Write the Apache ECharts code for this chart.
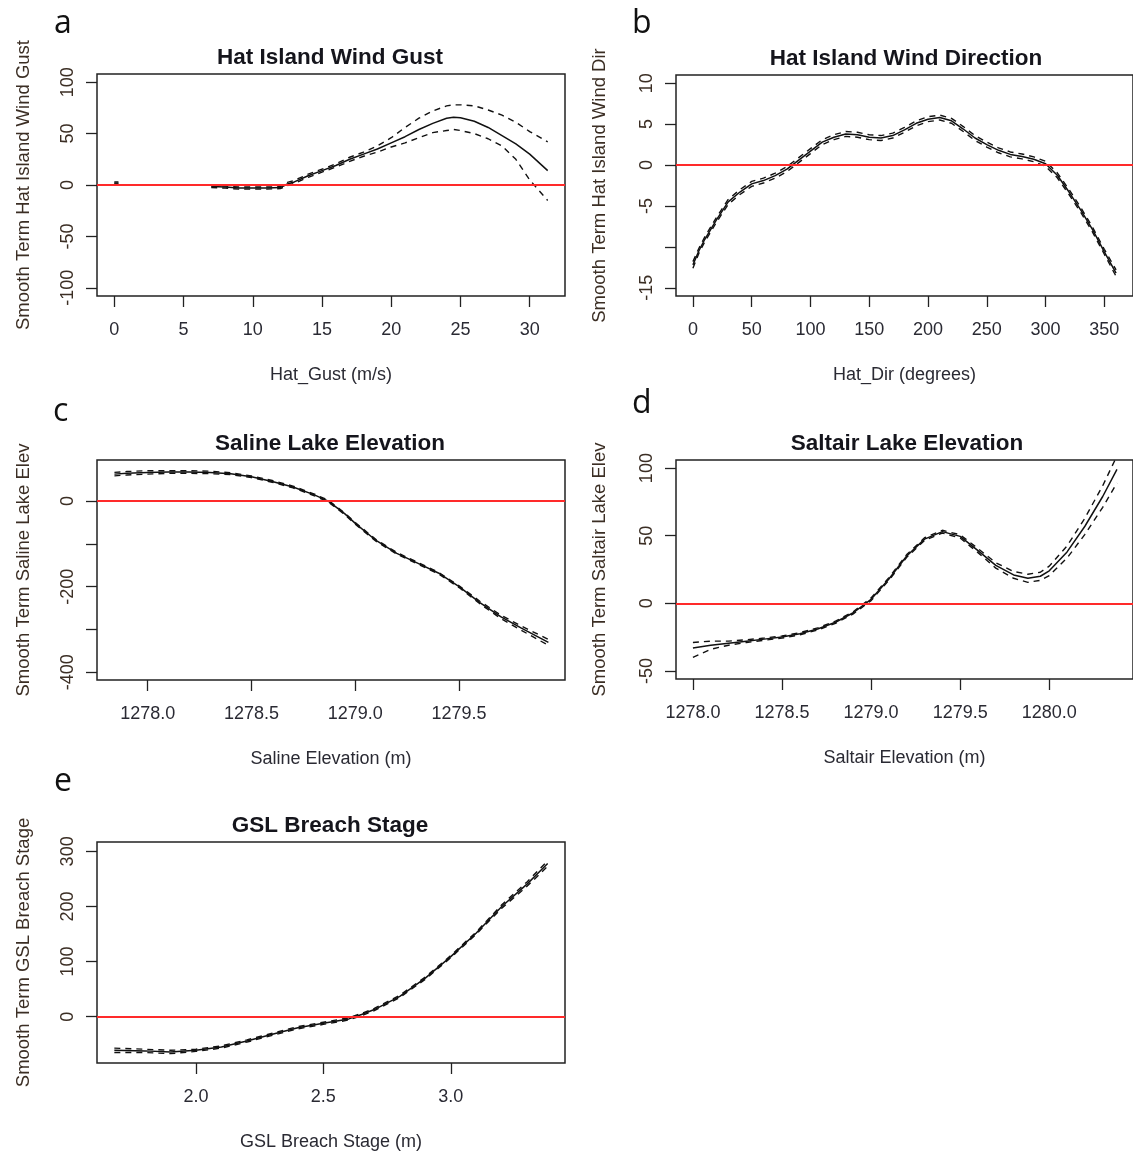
<!DOCTYPE html>
<html><head><meta charset="utf-8">
<script src="https://cdn.jsdelivr.net/npm/echarts@6/dist/echarts.min.js"></script>
<style>html,body{margin:0;padding:0;background:#fff}#c{width:1133px;height:1152px}</style>
</head><body><div id="c"></div>
<script>
// ---- Panel a: Hat Island Wind Gust ----
const aX     = [0, 0.3, null, 7, 8, 9, 10, 11, 12, 12.5, 13, 14, 15, 16, 17, 18, 19, 20, 21, 22, 23, 24, 24.5, 25, 26, 27, 28, 29, 30, 31.3];
const aFit   = [2, 2, null, -1.5, -2, -3, -3, -3, -2.5, 1, 3, 9, 14, 19, 25, 30, 35, 41, 47, 54, 60, 65, 66, 65.5, 62, 56, 48, 40, 30, 14];
const aUpper = [3, 3, null, -0.5, -1, -2, -2, -2, -1.5, 2.5, 4.5, 10.5, 15.5, 20.5, 27, 32, 38, 46, 56, 65, 72, 77, 78, 78, 77, 73, 68, 61, 52, 42];
const aLower = [1, 1, null, -2.5, -3, -4, -4, -4, -3.5, -0.5, 1.5, 7.5, 12.5, 17.5, 23, 28, 32, 37, 41, 46, 51, 53, 54, 53, 50, 45, 38, 25, 5, -15];
const aXTicks = [0, 5, 10, 15, 20, 25, 30];
const aYTicks = [-100, -50, 0, 50, 100];
const aYLabels = [-100, -50, 0, 50, 100];

// ---- Panel b: Hat Island Wind Direction ----
const bX     = [0,5,10,20,30,40,50,60,70,80,90,100,110,120,130,140,150,160,170,180,190,200,210,220,230,240,250,260,270,280,290,300,310,320,330,340,350,360];
const bFit   = [-12.2,-10.5,-9.1,-6.7,-4.5,-3.3,-2.3,-1.9,-1.3,-0.5,0.6,1.7,2.8,3.4,3.8,3.7,3.4,3.3,3.6,4.3,5.1,5.6,5.8,5.4,4.4,3.3,2.5,1.8,1.3,1.05,0.7,0.15,-1.25,-3.3,-5.5,-7.9,-10.6,-13.2];
const bUpper = [-11.8,-10.2,-8.8,-6.4,-4.2,-3.0,-2.0,-1.6,-1.0,-0.2,0.9,2.0,3.1,3.7,4.1,4.0,3.7,3.6,3.9,4.6,5.4,5.9,6.1,5.7,4.7,3.6,2.8,2.1,1.6,1.35,1.0,0.45,-0.95,-3.0,-5.2,-7.6,-10.3,-12.8];
const bLower = [-12.6,-10.8,-9.4,-7.0,-4.8,-3.6,-2.6,-2.2,-1.6,-0.8,0.3,1.4,2.5,3.1,3.5,3.4,3.1,3.0,3.3,4.0,4.8,5.3,5.5,5.1,4.1,3.0,2.2,1.5,1.0,0.75,0.4,-0.15,-1.55,-3.6,-5.8,-8.2,-10.9,-13.6];
const bXTicks = [0, 50, 100, 150, 200, 250, 300, 350];
const bYTicks = [-15, -10, -5, 0, 5, 10];
const bYLabels = [-15, -5, 0, 5, 10];

// ---- Panel c: Saline Lake Elevation ----
const cX     = [1277.84,1277.9,1278.0,1278.1,1278.2,1278.3,1278.4,1278.5,1278.6,1278.7,1278.8,1278.87,1278.95,1279.0,1279.1,1279.2,1279.3,1279.4,1279.5,1279.6,1279.7,1279.8,1279.93];
const cFit   = [63,65,67,68,68,67,64,57,46,33,15,0,-30,-52,-92,-122,-145,-168,-200,-237,-270,-297,-330];
const cUpper = [67,69,71,71,71,70,66,59,48,35,17,2,-28,-50,-90,-120,-143,-166,-198,-234,-266,-292,-323];
const cLower = [59,61,63,65,65,64,62,55,44,31,13,-2,-32,-54,-94,-124,-147,-170,-202,-240,-274,-302,-337];
const cXTicks = [1278.0, 1278.5, 1279.0, 1279.5];
const cYTicks = [-400, -300, -200, -100, 0];
const cYLabels = [-400, -200, 0];

// ---- Panel d: Saltair Lake Elevation ----
const dX     = [1278.0,1278.1,1278.2,1278.3,1278.4,1278.5,1278.6,1278.7,1278.8,1278.9,1278.97,1279.0,1279.1,1279.2,1279.3,1279.4,1279.5,1279.6,1279.7,1279.8,1279.88,1279.95,1280.0,1280.1,1280.2,1280.3,1280.38];
const dFit   = [-33,-31,-29.5,-28,-26.5,-25,-22.5,-19,-14,-7,0,3,18,35,47.5,53,49.5,39,28,21,18.5,20,24,38,57,79,99];
const dUpper = [-29,-28,-28,-27,-25.7,-24.2,-21.7,-18.2,-13.2,-6.2,1,4,19,36,48.5,54,50.7,40.5,30,23.5,21.5,23,27.5,42.5,63,87,109];
const dLower = [-40,-34,-31,-29,-27.3,-25.8,-23.3,-19.8,-14.8,-7.8,-1,2,17,34,46.5,52,48.3,37.5,26,18.5,15.5,17,20.5,33.5,51,71,89];
const dXTicks = [1278.0, 1278.5, 1279.0, 1279.5, 1280.0];
const dYTicks = [-50, 0, 50, 100];
const dYLabels = [-50, 0, 50, 100];

// ---- Panel e: GSL Breach Stage ----
const eX     = [1.68,1.8,1.9,2.0,2.1,2.2,2.3,2.4,2.5,2.6,2.65,2.7,2.8,2.9,3.0,3.1,3.2,3.3,3.38];
const eFit   = [-61,-62,-64,-61,-55,-44,-32,-20,-12,-4,4,13,37,70,109,152,200,241,278];
const eUpper = [-57,-59,-61,-59,-53,-42,-30,-18,-10,-2,6,15,39,72,111,154,203,245,283];
const eLower = [-65,-65,-67,-63,-57,-46,-34,-22,-14,-6,2,11,35,68,107,150,197,237,273];
const eXTicks = [2.0, 2.5, 3.0];
const eYTicks = [0, 100, 200, 300];
const eYLabels = [0, 100, 200, 300];

const FONT = "'Liberation Sans', Arial, sans-serif";
const YCOL = '#3b2e24';
const XCOL = '#2a2a33';

const panels = [
  {letter:'a', title:'Hat Island Wind Gust', xName:'Hat_Gust (m/s)', yName:'Smooth Term Hat Island Wind Gust',
   grid:{left:97, top:74, width:468, height:222}, xr:[-1.25,32.55], yr:[-108,108],
   X:aX, F:aFit, U:aUpper, L:aLower, xt:aXTicks, yt:aYTicks, yl:aYLabels, dec:0, lp:[63,22], yng:64, tc:330},
  {letter:'b', title:'Hat Island Wind Direction', xName:'Hat_Dir (degrees)', yName:'Smooth Term Hat Island Wind Dir',
   grid:{left:676, top:75, width:471, height:221}, xr:[-14.4,374.4], yr:[-16,11],
   X:bX, F:bFit, U:bUpper, L:bLower, xt:bXTicks, yt:bYTicks, yl:bYLabels, dec:0, lp:[641,22], yng:67, tc:906},
  {letter:'c', title:'Saline Lake Elevation', xName:'Saline Elevation (m)', yName:'Smooth Term Saline Lake Elev',
   grid:{left:97, top:460, width:468, height:220}, xr:[1277.756,1280.01], yr:[-418,96],
   X:cX, F:cFit, U:cUpper, L:cLower, xt:cXTicks, yt:cYTicks, yl:cYLabels, dec:1, lp:[62,410], yng:64, tc:330},
  {letter:'d', title:'Saltair Lake Elevation', xName:'Saltair Elevation (m)', yName:'Smooth Term Saltair Lake Elev',
   grid:{left:676, top:460, width:471, height:219}, xr:[1277.905,1280.47], yr:[-56,106],
   X:dX, F:dFit, U:dUpper, L:dLower, xt:dXTicks, yt:dYTicks, yl:dYLabels, dec:1, lp:[641,402], yng:67, tc:907},
  {letter:'e', title:'GSL Breach Stage', xName:'GSL Breach Stage (m)', yName:'Smooth Term GSL Breach Stage',
   grid:{left:97, top:842, width:468, height:222}, xr:[1.612,3.448], yr:[-84,317],
   X:eX, F:eFit, U:eUpper, L:eLower, xt:eXTicks, yt:eYTicks, yl:eYLabels, dec:1, lp:[63,780], yng:64, tc:330}
];

function pairs(xs, ys){
  return xs.map((x,i)=> (x===null || ys[i]===null) ? [NaN,'-'] : [x, ys[i]]);
}

const option = {
  animation:false,
  backgroundColor:'#fff',
  grid:[], xAxis:[], yAxis:[], series:[], title:[], graphic:[]
};

panels.forEach((p,i)=>{
  option.grid.push(Object.assign({show:true, borderColor:'#222', borderWidth:1.5, backgroundColor:'transparent', containLabel:false}, p.grid));
  option.xAxis.push({
    type:'value', gridIndex:i, min:p.xr[0], max:p.xr[1], position:'bottom',
    axisLine:{show:false, onZero:false}, splitLine:{show:false},
    axisTick:{show:true, inside:false, length:11, lineStyle:{color:'#222', width:1.3}, customValues:p.xt},
    axisLabel:{show:true, customValues:p.xt, margin:25, color:XCOL, fontFamily:FONT, fontSize:18,
      formatter:(v)=> p.dec ? Number(v).toFixed(p.dec) : String(Math.round(v))},
    name:p.xName, nameLocation:'middle', nameGap:70,
    nameTextStyle:{color:XCOL, fontFamily:FONT, fontSize:18}
  });
  option.yAxis.push({
    type:'value', gridIndex:i, min:p.yr[0], max:p.yr[1], position:'left',
    axisLine:{show:false, onZero:false}, splitLine:{show:false},
    axisTick:{show:true, inside:false, length:11, lineStyle:{color:'#222', width:1.3}, customValues:p.yt},
    axisLabel:{show:true, customValues:p.yl, rotate:90, margin:20, color:YCOL, fontFamily:FONT, fontSize:18},
    name:p.yName, nameLocation:'middle', nameGap:p.yng, nameRotate:90,
    nameTextStyle:{color:YCOL, fontFamily:FONT, fontSize:18.5}
  });
  const base = {type:'line', xAxisIndex:i, yAxisIndex:i, showSymbol:false, symbol:'none', connectNulls:false, silent:true};
  option.series.push(Object.assign({}, base, {data:pairs(p.X,p.U), lineStyle:{color:'#111', width:1.4, type:[6,5]}}));
  option.series.push(Object.assign({}, base, {data:pairs(p.X,p.L), lineStyle:{color:'#111', width:1.4, type:[6,5]}}));
  option.series.push(Object.assign({}, base, {data:pairs(p.X,p.F), lineStyle:{color:'#111', width:1.5, type:'solid'},
    markLine:{silent:true, symbol:['none','none'], label:{show:false}, lineStyle:{color:'#ff2a2a', width:2, type:'solid'},
      data:[{yAxis:0}], animation:false}}));
  option.title.push({text:p.title, left:p.tc, top:p.grid.top-28, textAlign:'center', padding:0,
    textStyle:{fontFamily:FONT, fontWeight:'bold', fontSize:22.5, color:'#15151c'}});
  option.graphic.push({type:'text', left:p.lp[0]-9, top:p.lp[1]-14,
    style:{text:p.letter, font:"32px 'Open Sans', 'Liberation Sans', Arial, sans-serif", fill:'#111'}});
});

const chart = echarts.init(document.getElementById('c'), null, {renderer:'canvas'});
chart.setOption(option);
</script>
</body></html>
